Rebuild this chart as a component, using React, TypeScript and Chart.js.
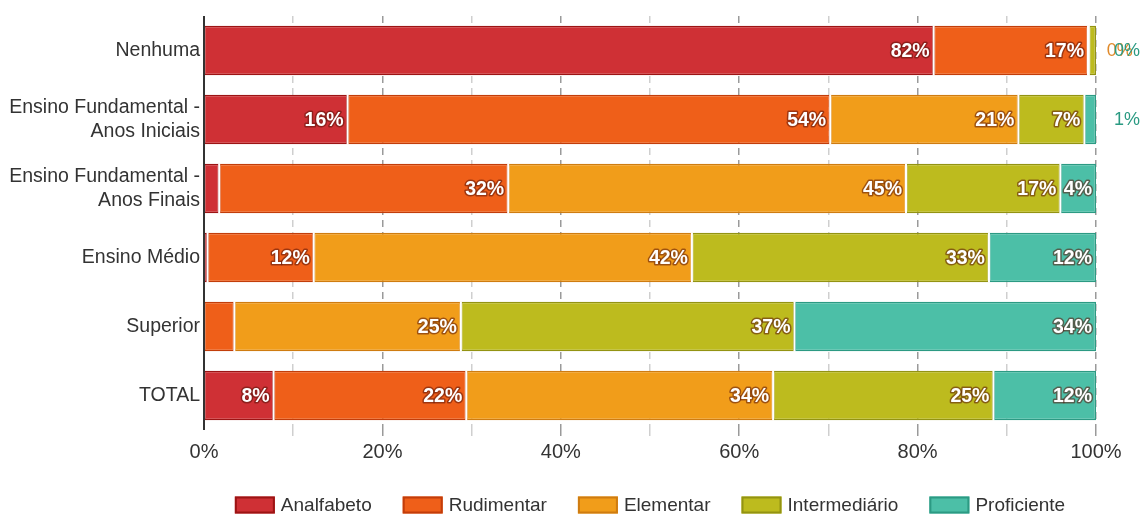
import React, { useEffect, useRef } from "react";
import { Chart, registerables } from "chart.js";

Chart.register(...registerables);

const categories: (string | string[])[] = [
  "Nenhuma",
  ["Ensino Fundamental -", "Anos Iniciais"],
  ["Ensino Fundamental -", "Anos Finais"],
  "Ensino Médio",
  "Superior",
  "TOTAL",
];

const seriesNames = ["Analfabeto", "Rudimentar", "Elementar", "Intermediário", "Proficiente"];

const analfabeto = [81.8, 16.1, 1.7, 0.4, 0.0, 7.8];
const rudimentar = [17.3, 54.1, 32.4, 11.9, 3.4, 21.6];
const elementar = [0.1, 21.1, 44.6, 42.4, 25.4, 34.4];
const intermediario = [0.8, 7.4, 17.3, 33.3, 37.4, 24.7];
const proficiente = [0.0, 1.3, 4.0, 12.0, 33.8, 11.5];

const xTicks = [0, 10, 20, 30, 40, 50, 60, 70, 80, 90, 100];

const fills = ["#cf3035", "#ef5f19", "#f19d1a", "#bdbb1e", "#4cbfa7"];
const borders = ["#9c1414", "#c23d0a", "#cf7c10", "#939312", "#2c9a83"];
const outsideColors = ["#b02a2a", "#d8561a", "#e08a2a", "#9a9a18", "#2a9a82"];

const FONT = "Arial, 'Liberation Sans', sans-serif";

const segmentPlugin = {
  id: "segments",
  afterDatasetsDraw(chart: any) {
    const ctx = chart.ctx;
    const n = chart.data.datasets.length;
    ctx.save();
    for (let d = 0; d < n; d++) {
      const meta = chart.getDatasetMeta(d);
      meta.data.forEach((bar: any, i: number) => {
        const v = chart.data.datasets[d].data[i];
        if (!v) return;
        const { x, y, height } = bar.getProps(["x", "y", "height"], true);
        if (x >= chart.chartArea.right - 1) return;
        ctx.fillStyle = "#ffffff";
        ctx.fillRect(x - 1, y - height / 2, 2, height);
      });
    }
    ctx.textBaseline = "middle";
    for (let d = 0; d < n; d++) {
      const meta = chart.getDatasetMeta(d);
      meta.data.forEach((bar: any, i: number) => {
        const v = chart.data.datasets[d].data[i] as number;
        const { x, y, base } = bar.getProps(["x", "y", "base"], true);
        const text = Math.round(v) + "%";
        const w = x - base;
        ctx.font = `bold 19.5px ${FONT}`;
        const tw = ctx.measureText(text).width;
        const endVal = chart.scales.x.getValueForPixel(x);
        if (tw + 4 <= w) {
          ctx.textAlign = "right";
          ctx.lineJoin = "round";
          ctx.lineWidth = 3;
          ctx.strokeStyle = "rgba(90,20,10,0.55)";
          ctx.strokeText(text, x - 4, y + 1);
          ctx.fillStyle = "#ffffff";
          ctx.fillText(text, x - 4, y + 1);
        } else if (endVal >= 99 && (Math.round(v) === 0 || d === n - 1)) {
          ctx.textAlign = "left";
          ctx.font = `18px ${FONT}`;
          ctx.fillStyle = outsideColors[d];
          ctx.fillText(text, x + 18, y + 1);
        }
      });
    }
    ctx.restore();
  },
};

const axisLinePlugin = {
  id: "axisLine",
  afterDatasetsDraw(chart: any) {
    const { ctx, chartArea } = chart;
    ctx.save();
    ctx.strokeStyle = "#333333";
    ctx.lineWidth = 2;
    ctx.beginPath();
    ctx.moveTo(chartArea.left, chartArea.top);
    ctx.lineTo(chartArea.left, chartArea.bottom);
    ctx.stroke();
    ctx.restore();
  },
};

const legendPlugin = {
  id: "customLegend",
  afterDraw(chart: any) {
    const { ctx, chartArea } = chart;
    const boxW = 40;
    const boxH = 17;
    const gapText = 6;
    const gapItem = 31;
    ctx.save();
    ctx.font = `19px ${FONT}`;
    const items = chart.data.datasets.map((ds: any) => ({
      label: ds.label,
      fill: ds.backgroundColor,
      border: ds.borderColor,
      w: boxW + gapText + ctx.measureText(ds.label).width,
    }));
    const total = items.reduce((s: number, it: any) => s + it.w, 0) + gapItem * (items.length - 1);
    let x = (chartArea.left + chartArea.right) / 2 - total / 2;
    const cy = 505;
    ctx.textBaseline = "middle";
    ctx.textAlign = "left";
    items.forEach((it: any) => {
      ctx.fillStyle = it.fill;
      ctx.fillRect(x, cy - boxH / 2, boxW, boxH);
      ctx.strokeStyle = it.border;
      ctx.lineWidth = 2;
      ctx.strokeRect(x + 1, cy - boxH / 2 + 1, boxW - 2, boxH - 2);
      ctx.fillStyle = "#333333";
      ctx.fillText(it.label, x + boxW + gapText, cy + 1);
      x += it.w + gapItem;
    });
    ctx.restore();
  },
};

export default function App() {
  const ref = useRef<HTMLCanvasElement>(null);

  useEffect(() => {
    document.body.style.margin = "0";
    const values = [analfabeto, rudimentar, elementar, intermediario, proficiente];
    const chart = new Chart(ref.current as HTMLCanvasElement, {
      type: "bar",
      data: {
        labels: categories,
        datasets: seriesNames.map((name, i) => ({
          label: name,
          data: values[i],
          backgroundColor: fills[i],
          borderColor: borders[i],
          borderWidth: 1.5,
          borderSkipped: false,
          barPercentage: 0.8,
          categoryPercentage: 0.9,
        })),
      },
      options: {
        indexAxis: "y",
        animation: false,
        responsive: false,
        devicePixelRatio: 1,
        layout: { padding: { top: 16, right: 47, bottom: 40, left: 0 } },
        plugins: {
          legend: { display: false },
          tooltip: { enabled: false },
        },
        scales: {
          x: {
            stacked: true,
            min: 0,
            max: 100,
            afterBuildTicks: (scale: any) => {
              scale.ticks = xTicks.map((v) => ({ value: v }));
            },
            afterFit: (scale: any) => {
              scale.height = 45;
            },
            border: { display: false, dash: [7, 5] },
            grid: {
              color: (c: any) => (c.tick && c.tick.value % 20 === 0 ? "#9a9a9a" : "#cfcfcf"),
              lineWidth: (c: any) => (c.tick && c.tick.value === 0 ? 0 : 1.5),
              tickLength: 6,
              drawTicks: true,
            },
            ticks: {
              autoSkip: false,
              maxRotation: 0,
              padding: 4,
              color: "#333333",
              font: { family: FONT, size: 20 },
              callback: (v: any) => (Number(v) % 20 === 0 ? v + "%" : ""),
            },
          },
          y: {
            stacked: true,
            afterFit: (scale: any) => {
              scale.width = 204;
            },
            border: { display: false },
            grid: { display: false, drawTicks: false },
            ticks: {
              padding: 4,
              color: "#333333",
              font: { family: FONT, size: 19.5, lineHeight: 1.23 },
            },
          },
        },
      },
      plugins: [segmentPlugin, axisLinePlugin, legendPlugin],
    } as any);
    return () => chart.destroy();
  }, []);

  return <canvas ref={ref} width={1143} height={515} style={{ display: "block" }} />;
}
